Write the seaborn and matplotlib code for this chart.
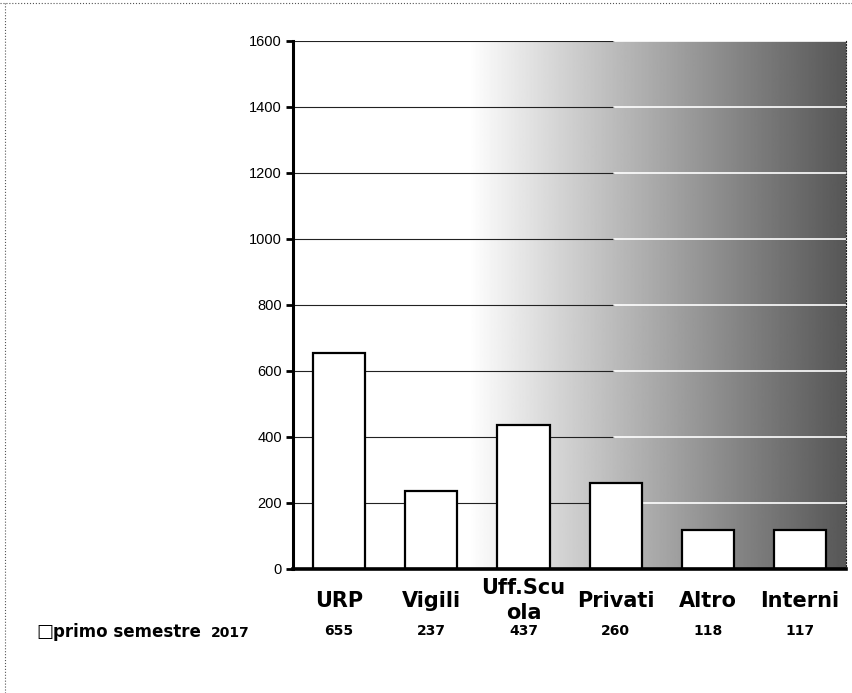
import numpy as np
import matplotlib.pyplot as plt
import seaborn as sns

# data
categories = ['URP', 'Vigili', 'Uff.Scu\nola', 'Privati', 'Altro', 'Interni']
values = [655, 237, 437, 260, 118, 117]
series_name = 'primo semestre'
series_year = '2017'
y_ticks = [0, 200, 400, 600, 800, 1000, 1200, 1400, 1600]

sns.set_style('white')
plt.rcParams['font.family'] = ['DejaVu Sans']
plt.rcParams['text.color'] = 'black'
plt.rcParams['xtick.color'] = 'black'
plt.rcParams['ytick.color'] = 'black'

fig = plt.figure(figsize=(8.52, 6.93), dpi=100)
ax = fig.add_axes([0.344, 0.179, 0.649, 0.762])

# grey gradient background (white on the left, dark on the right)
t = np.linspace(0, 1, 400)
g = np.where(t < 0.32, 1.0, 1 - 0.66 * np.clip((t - 0.32) / 0.68, 0, 1) ** 0.95)
ax.imshow(g[np.newaxis, :], cmap='gray', vmin=0, vmax=1, aspect='auto',
          extent=[0, 1, 0, 1], transform=ax.transAxes, zorder=0)

# gridlines: dark where the background is light, white where it is dark
for yv in y_ticks[1:]:
    ax.axhline(yv, xmin=0, xmax=0.58, color='#222222', lw=0.8, zorder=1)
    ax.axhline(yv, xmin=0.58, xmax=1, color='white', lw=1.2, zorder=1)

sns.barplot(x=list(range(len(values))), y=values, color='white',
            edgecolor='black', linewidth=1.6, width=0.565, ax=ax,
            saturation=1, zorder=2)

ax.set_xlim(-0.5, len(values) - 0.5)
ax.set_ylim(0, 1600)
ax.set_yticks(y_ticks)
ax.set_yticklabels([str(v) for v in y_ticks], family='Liberation Sans', fontsize=10.5)
ax.set_xticks(range(len(categories)))
ax.set_xticklabels(categories, fontsize=15, fontweight='bold', va='center',
                   linespacing=1.3)
ax.tick_params(axis='x', length=0, pad=23)
ax.tick_params(axis='y', length=5, width=2, direction='out', pad=3, left=True)
ax.set_xlabel('')
ax.set_ylabel('')

ax.spines['left'].set_linewidth(2.2)
ax.spines['left'].set_color('black')
ax.spines['bottom'].set_linewidth(2.6)
ax.spines['bottom'].set_color('black')
ax.spines['top'].set_visible(False)
ax.spines['right'].set_linewidth(0.8)
ax.spines['right'].set_linestyle(':')
ax.spines['right'].set_color('#222222')

# data table row under the chart
row_y = -0.117
for i, v in enumerate(values):
    ax.text(i, row_y, str(v), transform=ax.get_xaxis_transform(),
            ha='center', va='center', fontsize=10, fontweight='bold')
fig.text(0.043, 0.088, '\u25a1', fontsize=13, va='center', ha='left')
fig.text(0.062, 0.088, series_name, fontsize=12, fontweight='bold',
         va='center', ha='left')
fig.text(0.247, 0.086, series_year, fontsize=10, fontweight='bold',
         va='center', ha='left')

# page border of the scan
fig.add_artist(plt.Line2D([0, 1], [0.996, 0.996], color='#555555', lw=0.8,
                          ls=':', transform=fig.transFigure))
fig.add_artist(plt.Line2D([0.006, 0.006], [0, 0.996], color='#555555', lw=0.8,
                          ls=':', transform=fig.transFigure))

fig.savefig('out.png', dpi=100)
